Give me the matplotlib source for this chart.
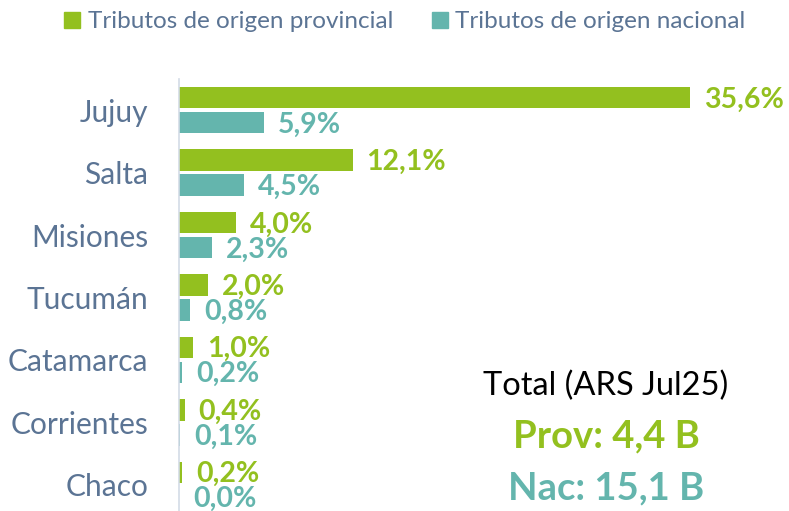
import matplotlib
matplotlib.use("Agg")
import matplotlib.pyplot as plt
from matplotlib.patches import Patch

plt.rcParams['font.family'] = ['Lato', 'DejaVu Sans']

# data
provincias = ["Jujuy", "Salta", "Misiones", "Tucumán", "Catamarca", "Corrientes", "Chaco"]
prov_vals = [35.6, 12.1, 4.0, 2.0, 1.0, 0.4, 0.2]
nac_vals = [5.9, 4.5, 2.3, 0.8, 0.2, 0.1, 0.0]
series_names = ["Tributos de origen provincial", "Tributos de origen nacional"]
total_lines = ["Total (ARS Jul25)", "Prov: 4,4 B", "Nac: 15,1 B"]

GREEN = "#93c01f"
TEAL = "#64b5ad"
SLATE = "#5b7494"

fig = plt.figure(figsize=(7.89, 5.11), dpi=100)
ax = fig.add_axes([179 / 789, 1 - 516 / 511, 1 - 179 / 789, 437 / 511])

y = list(range(len(provincias)))
off, h = 0.2, 0.345
ax.barh([i - off for i in y], prov_vals, height=h, color=GREEN)
ax.barh([i + off for i in y], nac_vals, height=h, color=TEAL)

def fmt(v):
    return f"{v:.1f}".replace(".", ",") + "%"

for i in y:
    ax.annotate(fmt(prov_vals[i]), (prov_vals[i], i - off + 0.03), xytext=(10, 0),
                textcoords="offset points", va="center", ha="left",
                color=GREEN, fontsize=20.5, fontweight="bold")
    ax.annotate(fmt(nac_vals[i]), (nac_vals[i], i + off + 0.03), xytext=(10, 0),
                textcoords="offset points", va="center", ha="left",
                color=TEAL, fontsize=20.5, fontweight="bold")

ax.set_ylim(len(provincias) - 0.5, -0.5)
ax.set_xlim(0, 42.5)
ax.set_yticks(y)
ax.set_yticklabels(provincias, fontsize=21.5, color=SLATE)
ax.tick_params(axis="y", length=0, pad=22)
ax.set_xticks([])
for s in ["top", "right", "bottom"]:
    ax.spines[s].set_visible(False)
ax.spines["left"].set_color("#d3dbe6")
ax.spines["left"].set_linewidth(1.2)

handles = [Patch(color=GREEN), Patch(color=TEAL)]
fig.legend(handles, series_names, loc="center", bbox_to_anchor=(0.513, 1 - 22 / 511),
           ncol=2, frameon=False, fontsize=17.5, labelcolor=SLATE,
           handlelength=0.65, handleheight=0.65, handletextpad=0.3, columnspacing=1.6)

fig.text(606 / 789, 1 - 386 / 511, total_lines[0], ha="center", va="center",
         fontsize=23.5, color="black")
fig.text(606 / 789, 1 - 436 / 511, total_lines[1], ha="center", va="center",
         fontsize=27.5, color=GREEN, fontweight="bold")
fig.text(606 / 789, 1 - 488 / 511, total_lines[2], ha="center", va="center",
         fontsize=27.5, color=TEAL, fontweight="bold")

fig.savefig("out.png", dpi=100)
